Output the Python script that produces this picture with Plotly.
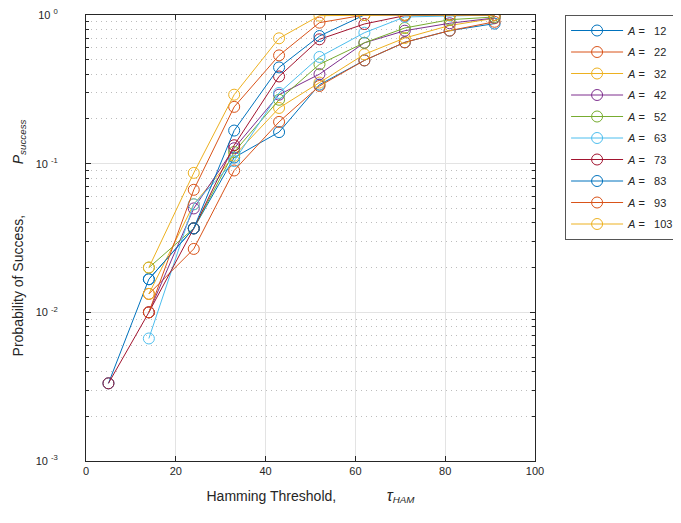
import plotly.graph_objects as go

# Hamming thresholds (x)
tau_ham = [5, 14, 24, 33, 43, 52, 62, 71, 81, 91]

# Series labels
a_values = [12, 22, 32, 42, 52, 63, 73, 83, 93, 103]

# Probability of success for each A (None = not plotted / zero)
p_a12 = [0.00333, 0.0167, 0.0367, 0.110, 0.163, 0.340, 0.495, 0.655, 0.785, 0.875]
p_a22 = [None, 0.0133, 0.0267, 0.090, 0.191, 0.333, 0.495, 0.655, 0.785, 0.900]
p_a32 = [None, 0.0133, 0.0533, 0.113, 0.237, 0.351, 0.544, 0.700, 0.850, 0.950]
p_a42 = [None, 0.0100, 0.0500, 0.127, 0.291, 0.400, 0.650, 0.784, 0.880, 0.955]
p_a52 = [None, 0.0200, 0.0367, 0.120, 0.269, 0.466, 0.650, 0.818, 0.930, 0.970]
p_a63 = [None, 0.00667, 0.0533, 0.104, 0.299, 0.522, 0.760, 0.970, 0.990, 1.000]
p_a73 = [0.00333, 0.0100, 0.0367, 0.133, 0.386, 0.686, 0.870, 0.990, 1.000, 1.000]
p_a83 = [None, 0.0167, 0.0367, 0.167, 0.444, 0.722, 1.000, 1.000, 1.000, 1.000]
p_a93 = [None, 0.0100, 0.0667, 0.241, 0.535, 0.888, 1.000, 1.000, 1.000, 1.000]
p_a103 = [None, 0.0200, 0.0867, 0.291, 0.697, 0.990, 1.000, 1.000, 1.000, 1.000]

series = [p_a12, p_a22, p_a32, p_a42, p_a52, p_a63, p_a73, p_a83, p_a93, p_a103]

colors = ['#0072BD', '#D95319', '#EDB120', '#7E2F8E', '#77AC30',
          '#4DBEEE', '#A2142F', '#0072BD', '#D95319', '#EDB120']

y_tickvals = [1e-3, 1e-2, 1e-1, 1]
y_ticktext = ['10 <sup>-3</sup>', '10 <sup>-2</sup>', '10 <sup>-1</sup>', '10 <sup>0</sup>']
y_minor = [m * 10 ** e for e in (-3, -2, -1) for m in range(2, 10)]

FONT = 'Liberation Sans, Arial, sans-serif'
TXT = '#262626'

fig = go.Figure()
for a, ys, c in zip(a_values, series, colors):
    fig.add_trace(go.Scatter(
        x=tau_ham, y=ys, mode='lines+markers',
        name="<i>A</i> =\u00a0\u00a0\u00a0" + str(a) + "\u00a0\u00a0\u00a0",
        legendgroup='A' + str(a),
        line=dict(color=c, width=1),
        marker=dict(symbol='circle-open', size=11, color=c, line=dict(width=1, color=c)),
        connectgaps=False,
    ))

NB = '\u00a0'
# page body has an 8px default margin, so the figure is 8px smaller than the window
fig.update_layout(
    width=673, height=515,
    margin=dict(l=78, r=146, t=7, b=62, autoexpand=False),
    paper_bgcolor='white', plot_bgcolor='white',
    font=dict(family=FONT, size=11, color=TXT),
    showlegend=True,
    legend=dict(
        x=1.067, y=1.0, xanchor='left', yanchor='top',
        bgcolor='white', bordercolor='#555555', borderwidth=1,
        font=dict(size=11, family=FONT, color=TXT),
        traceorder='grouped', tracegroupgap=2.5, itemwidth=52,
    ),
    xaxis=dict(
        range=[0, 100], tickvals=[0, 20, 40, 60, 80, 100],
        ticks='inside', ticklen=5, tickcolor=TXT,
        showline=True, linecolor=TXT, linewidth=1, mirror='ticks',
        showgrid=True, gridcolor='#e3e3e3', gridwidth=1,
        zeroline=False, automargin=False, ticklabeloverflow='allow',
        tickfont=dict(size=11, color=TXT),
        title=dict(text='Hamming Threshold,' + NB * 13 + '<i><span style="font-size:16px">τ</span><sub>HAM</sub></i>',
                   font=dict(size=14, color=TXT), standoff=14),
    ),
    yaxis=dict(
        type='log', range=[-3, 0],
        tickmode='array', tickvals=y_tickvals, ticktext=y_ticktext,
        ticks='inside', ticklen=5, tickcolor=TXT,
        showline=True, linecolor=TXT, linewidth=1, mirror='ticks',
        showgrid=True, gridcolor='#e3e3e3', gridwidth=1,
        zeroline=False, automargin=False, ticklabeloverflow='allow',
        tickfont=dict(size=11, color=TXT),
        ticklabelstandoff=25,
        minor=dict(tickmode='array', tickvals=y_minor, ticks='inside', ticklen=3,
                   tickcolor=TXT, showgrid=True, griddash='1px,4px', gridcolor='#bdbdbd', gridwidth=1),
        title=dict(text='Probability of Success,' + NB * 13 + '<i>P</i><sub><i>success</i></sub>',
                   font=dict(size=14, color=TXT), standoff=8),
    ),
)

fig.write_html('out.html')
